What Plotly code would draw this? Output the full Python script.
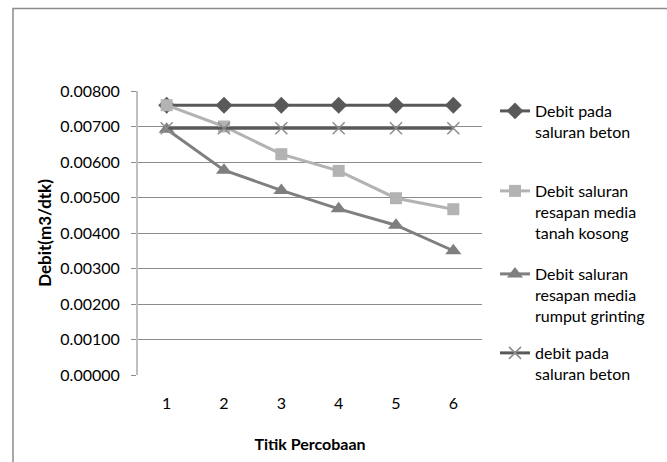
import plotly.graph_objects as go

titik = [1, 2, 3, 4, 5, 6]
beton = [0.00760, 0.00760, 0.00760, 0.00760, 0.00760, 0.00760]
tanah_kosong = [0.00760, 0.00700, 0.00622, 0.00575, 0.00498, 0.00467]
rumput = [0.00692, 0.00577, 0.00520, 0.00468, 0.00422, 0.00350]
beton2 = [0.00695, 0.00695, 0.00695, 0.00695, 0.00695, 0.00695]
names = ["Debit pada<br>saluran beton",
         "Debit saluran<br>resapan media<br>tanah kosong",
         "Debit saluran<br>resapan media<br>rumput grinting",
         "debit pada<br>saluran beton"]
y_ticks = [0.0, 0.001, 0.002, 0.003, 0.004, 0.005, 0.006, 0.007, 0.008]

FONT = "Lato"
L, R, T, B = 138, 185, 91, 87
W, H = 667, 462
pw, ph = W - L - R, H - T - B

def px_x(p):
    return (p - L) / pw

def px_y(p):
    return (H - B - p) / ph

fig = go.Figure()
fig.add_trace(go.Scatter(x=titik, y=beton, name=names[0], mode="lines+markers",
                         line=dict(color="#595959", width=3),
                         marker=dict(symbol="diamond", size=13, color="#595959"),
                         legend="legend"))
fig.add_trace(go.Scatter(x=titik, y=tanah_kosong, name=names[1], mode="lines+markers",
                         line=dict(color="#b3b3b3", width=3),
                         marker=dict(symbol="square", size=12, color="#b3b3b3"),
                         legend="legend2"))
fig.add_trace(go.Scatter(x=titik, y=rumput, name=names[2], mode="lines+markers",
                         line=dict(color="#7f7f7f", width=3),
                         marker=dict(symbol="triangle-up", size=14, color="#7f7f7f"),
                         legend="legend3"))
fig.add_trace(go.Scatter(x=titik, y=beton2, name=names[3], mode="lines+markers",
                         line=dict(color="#595959", width=3),
                         marker=dict(symbol="x-thin", size=12,
                                     line=dict(color="#8c8c8c", width=1.5)),
                         legend="legend4"))

leg_common = dict(font=dict(family=FONT, size=16, color="#000000"),
                  xanchor="left", yanchor="top", bgcolor="rgba(0,0,0,0)",
                  valign="top", itemwidth=30)
leg_tops = [94, 174, 257, 336]
legends = {}
for i, t in enumerate(leg_tops):
    key = "legend" if i == 0 else f"legend{i+1}"
    legends[key] = dict(x=px_x(495), y=px_y(t), **leg_common)

fig.update_layout(
    width=W, height=H,
    margin=dict(l=L, r=R, t=T, b=B),
    paper_bgcolor="white", plot_bgcolor="white",
    font=dict(family=FONT, size=16, color="#000000"),
    showlegend=True,
    **legends,
    xaxis=dict(range=[0.5, 6.5], tickvals=titik, ticktext=[str(v) for v in titik],
               showgrid=False, zeroline=False, showline=False, ticks="",
               ticklabelstandoff=17,
               tickfont=dict(family=FONT, size=16, color="#000000"),
               title=dict(text="<b>Titik Percobaan</b>", standoff=27,
                          font=dict(family=FONT, size=16, color="#000000"))),
    yaxis=dict(range=[0, 0.008], tickvals=y_ticks,
               ticktext=[f"{v:.5f}" for v in y_ticks],
               showgrid=True, gridcolor="#8c8c8c", gridwidth=1,
               zeroline=False, showline=True, linecolor="#bfbfbf", linewidth=2,
               ticks="outside", ticklen=5, tickcolor="#8c8c8c",
               ticklabelstandoff=8,
               tickfont=dict(family=FONT, size=16, color="#000000"),
               title=dict(text="<b>Debit(m3/dtk)</b>", standoff=4,
                          font=dict(family=FONT, size=17, color="#000000"))),
    shapes=[dict(type="rect", xref="paper", yref="paper",
                 x0=px_x(13), x1=px_x(670), y0=px_y(470), y1=px_y(8.5),
                 line=dict(color="#8c8c8c", width=1.5), layer="below")],
)

fig.write_html("out.html")
